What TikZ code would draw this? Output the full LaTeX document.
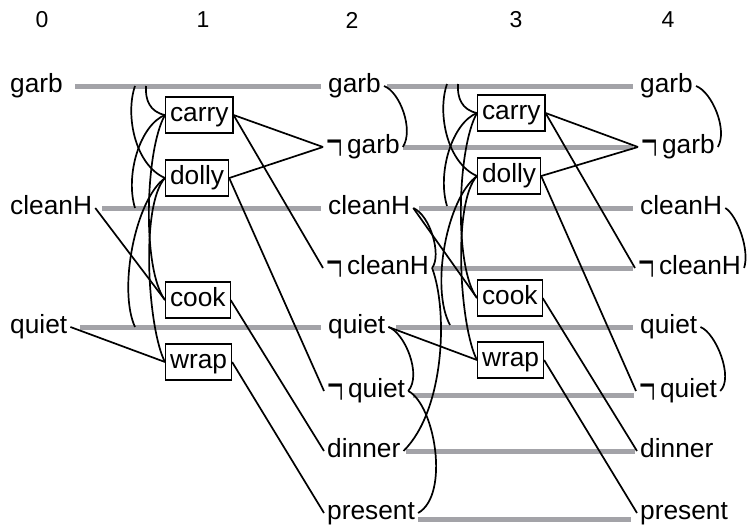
\documentclass[tikz,border=0pt]{standalone}
\usepackage{fontspec}
\setmainfont{Liberation Sans}
\newfontfamily\lserif{Liberation Serif}
\usepackage{graphicx}
\definecolor{linegray}{RGB}{163,163,168}
\newcommand{\nt}{{\lserif\raisebox{-0.34em}{\scalebox{1.1}[2.4]{¬}}}\kern4.5pt}
\begin{document}
\begin{tikzpicture}[x=1pt,y=-1pt,
  lit/.style={inner xsep=3pt, inner ysep=0pt, text height=19pt, text depth=5.6pt, anchor=west, font=\fontsize{26.3}{31}\selectfont},
  act/.style={draw=black, line width=1.1pt, inner xsep=4.5pt, inner ysep=0pt, minimum height=36pt, text height=19pt, text depth=5.6pt, anchor=west, font=\fontsize{26.3}{31}\selectfont},
  hdr/.style={font=\fontsize{23}{27}\selectfont, inner sep=0pt},
  noop/.style={draw=linegray, line width=5pt},
  link/.style={draw=black, line width=1.7pt},
  mutex/.style={draw=black, line width=1.7pt}
]
\useasboundingbox (0,0) rectangle (748,525);

% headers
\node[hdr] (h0) at (42,20) {0};
\node[hdr] (h1) at (203,20) {1};
\node[hdr] (h2) at (352,20) {2};
\node[hdr] (h3) at (516,20) {3};
\node[hdr] (h4) at (668,20) {4};

% level 0
\node[lit] (g0) at (7,86) {garb};
\node[lit] (c0) at (7,208) {cleanH};
\node[lit] (q0) at (7,327) {quiet};

% level 1 actions
\node[act] (carry1) at (165,115) {carry};
\node[act] (dolly1) at (165,178) {dolly};
\node[act] (cook1) at (165,300) {cook};
\node[act] (wrap1) at (165,362) {wrap};

% level 2
\node[lit] (g2) at (325,86) {garb};
\node[lit] (ng2) at (323,147) {\nt garb};
\node[lit] (c2) at (325,208) {cleanH};
\node[lit] (nc2) at (323,268) {\nt cleanH};
\node[lit] (q2) at (325,327) {quiet};
\node[lit] (nq2) at (324,391) {\nt quiet};
\node[lit] (d2) at (324,451) {dinner};
\node[lit] (p2) at (324,513) {present};

% level 3 actions
\node[act] (carry3) at (477,113) {carry};
\node[act] (dolly3) at (477,176) {dolly};
\node[act] (cook3) at (477,298) {cook};
\node[act] (wrap3) at (477,360) {wrap};

% level 4
\node[lit] (g4) at (637,86) {garb};
\node[lit] (ng4) at (638,147) {\nt garb};
\node[lit] (c4) at (637,208) {cleanH};
\node[lit] (nc4) at (635,268) {\nt cleanH};
\node[lit] (q4) at (637,327) {quiet};
\node[lit] (nq4) at (636,391) {\nt quiet};
\node[lit] (d4) at (637,451) {dinner};
\node[lit] (p4) at (637,513) {present};

% persistence lines
\draw[noop] ([xshift=9pt]g0.east) -- ([xshift=-4pt]g2.west);
\draw[noop] ([xshift=7pt]c0.east) -- ([xshift=-4pt]c2.west);
\draw[noop] ([xshift=10pt]q0.east) -- ([xshift=-4pt]q2.west);

\draw[noop] ([xshift=3pt]g2.east) -- ([xshift=-4pt]g4.west);
\draw[noop] (ng2.east) -- ([xshift=-5pt]ng4.west);
\draw[noop] ([xshift=6pt]c2.east) -- ([xshift=-4pt]c4.west);
\draw[noop] (nc2.east) -- ([xshift=-2pt]nc4.west);
\draw[noop] ([xshift=8pt]q2.east) -- ([xshift=-4pt]q4.west);
\draw[noop] ([xshift=5pt,yshift=-4pt]nq2.east) -- ([xshift=-2pt,yshift=-4pt]nq4.west);
\draw[noop] ([xshift=2pt]d2.east) -- ([xshift=-2pt]d4.west);
\draw[noop] ([yshift=-6pt]p2.east) -- ([xshift=-6pt,yshift=-6pt]p4.west);

% preconditions
\draw[link] (c0.east) -- (cook1.west);
\draw[link] (q0.east) -- (wrap1.west);
\draw[link] (c2.east) -- (cook3.west);
\draw[link] (q2.east) -- (wrap3.west);

% effects level 1
\draw[link] (carry1.east) -- (ng2.west);
\draw[link] (carry1.east) -- (nc2.west);
\draw[link] (dolly1.east) -- (ng2.west);
\draw[link] (dolly1.east) -- (nq2.west);
\draw[link] (cook1.east) -- (d2.west);
\draw[link] (wrap1.east) -- (p2.west);
% effects level 3
\draw[link] (carry3.east) -- (ng4.west);
\draw[link] (carry3.east) -- (nc4.west);
\draw[link] (dolly3.east) -- (ng4.west);
\draw[link] (dolly3.east) -- (nq4.west);
\draw[link] (cook3.east) -- (d4.west);
\draw[link] (wrap3.east) -- (p4.west);

% literal mutexes level 2
\draw[mutex] (g2.east) .. controls (400,92) and (414,130) .. (ng2.east);
\draw[mutex] (c2.east) .. controls (430,215) and (442,255) .. (nc2.east);
\draw[mutex] (q2.east) .. controls (405,333) and (422,375) .. (nq2.east);
\draw[mutex] (nc2.east) .. controls (448,310) and (445,410) .. (d2.east);
\draw[mutex] (nq2.east) .. controls (435,405) and (450,495) .. (p2.east);

% literal mutexes level 4
\draw[mutex] (g4.east) .. controls (712,92) and (728,130) .. (ng4.east);
\draw[mutex] (c4.east) .. controls (737,215) and (750,250) .. (nc4.east);
\draw[mutex] (q4.east) .. controls (716,333) and (734,378) .. (nq4.east);

% action mutexes level 1
\coordinate (ga1) at (146,86);
\coordinate (gb1) at (135,86);
\coordinate (cl1) at (135,208);
\coordinate (qu1) at (135,327);
\draw[mutex] (ga1) .. controls (145,100) and (150,112) .. (carry1.west);
\draw[mutex] (gb1) .. controls (125,115) and (135,165) .. (dolly1.west);
\draw[mutex] (carry1.west) .. controls (140,125) and (125,175) .. (cl1);
\draw[mutex] (carry1.west) .. controls (145,150) and (142,270) .. (cook1.west);
\draw[mutex] (dolly1.west) .. controls (135,200) and (118,290) .. (qu1);
\draw[mutex] (dolly1.west) .. controls (140,205) and (148,330) .. (wrap1.west);

% action mutexes level 3
\begin{scope}[shift={(312,-2)}]
\coordinate (ga3) at (146,86);
\coordinate (gb3) at (135,86);
\coordinate (cl3) at (135,208);
\coordinate (qu3) at (138,327);
\draw[mutex] (ga3) .. controls (145,100) and (150,112) .. (carry3.west);
\draw[mutex] (gb3) .. controls (125,115) and (135,165) .. (dolly3.west);
\draw[mutex] (carry3.west) .. controls (140,125) and (125,175) .. (cl3);
\draw[mutex] (carry3.west) .. controls (145,150) and (142,270) .. (cook3.west);
\draw[mutex] (dolly3.west) .. controls (135,200) and (118,290) .. (qu3);
\draw[mutex] (dolly3.west) .. controls (140,205) and (148,330) .. (wrap3.west);
\end{scope}
\end{tikzpicture}
\end{document}
